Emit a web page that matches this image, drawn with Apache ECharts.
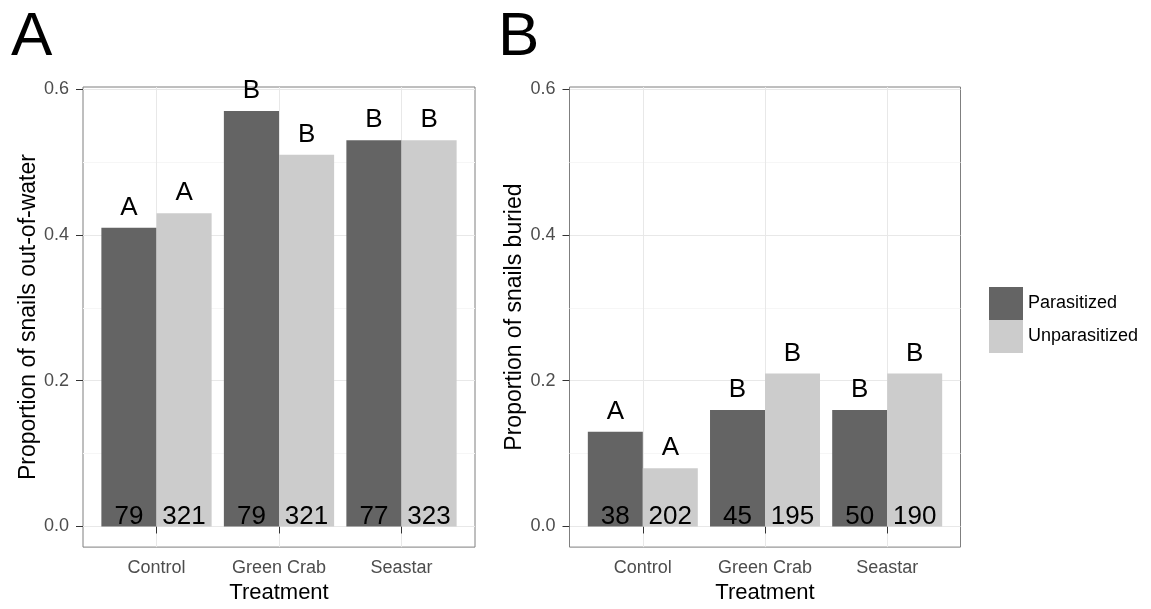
<!DOCTYPE html>
<html>
<head>
<meta charset="utf-8">
<script src="https://cdn.jsdelivr.net/npm/echarts@6/dist/echarts.min.js"></script>
<style>
  html, body { margin: 0; padding: 0; background: #fff; }
  #chart { width: 1151px; height: 609px; }
</style>
</head>
<body>
<div id="chart"></div>
<script>
// Treatments on the x axis and the two snail groups
const treatments = ['Control', 'Green Crab', 'Seastar'];
const groups = ['Parasitized', 'Unparasitized'];

// Panel A: proportion of snails out of water
const outParasitized = [0.41, 0.57, 0.53];
const outUnparasitized = [0.43, 0.51, 0.53];
const outLettersPar = ['A', 'B', 'B'];
const outLettersUnpar = ['A', 'B', 'B'];
const outNPar = [79, 79, 77];
const outNUnpar = [321, 321, 323];

// Panel B: proportion of snails buried
const burParasitized = [0.13, 0.16, 0.16];
const burUnparasitized = [0.08, 0.21, 0.21];
const burLettersPar = ['A', 'B', 'B'];
const burLettersUnpar = ['A', 'B', 'B'];
const burNPar = [38, 45, 50];
const burNUnpar = [202, 195, 190];

// Axis ticks
const yTicks = [0, 0.2, 0.4, 0.6];
const yMinorTicks = [0.1, 0.3, 0.5];
const xPositions = treatments.map((t, i) => i + 1);

const FONT = '"Liberation Sans", Arial, Helvetica, sans-serif';
const DARK = '#646464';
const LIGHT = '#cccccc';
const Y_MIN = -0.0283;
const Y_MAX = 0.6031;

function xAxisFor(gridIndex) {
  return {
    gridIndex: gridIndex,
    type: 'value',
    min: 0.4,
    max: 3.6,
    axisLine: { show: false },
    axisTick: { customValues: xPositions, length: 7, lineStyle: { color: '#333' } },
    axisLabel: {
      customValues: xPositions,
      formatter: v => treatments[Math.round(v) - 1],
      fontFamily: FONT, fontSize: 18, color: '#4d4d4d', margin: 12
    },
    splitLine: { show: true, lineStyle: { color: '#e8e8e8', width: 1 } },
    name: 'Treatment',
    nameLocation: 'middle',
    nameGap: 33,
    nameTextStyle: { fontFamily: FONT, fontSize: 22, color: '#000' }
  };
}

function yAxesFor(gridIndex, title) {
  return [
    {
      gridIndex: gridIndex,
      type: 'value',
      min: Y_MIN,
      max: Y_MAX,
      axisLine: { show: false },
      axisTick: { customValues: yTicks, length: 7, lineStyle: { color: '#333' } },
      axisLabel: {
        customValues: yTicks,
        formatter: v => v.toFixed(1),
        fontFamily: FONT, fontSize: 18, color: '#4d4d4d', margin: 14
      },
      splitLine: { show: true, lineStyle: { color: '#e8e8e8', width: 1 } },
      name: title,
      nameLocation: 'middle',
      nameRotate: 90,
      nameGap: 43,
      nameTextStyle: { fontFamily: FONT, fontSize: 23, color: '#000' }
    },
    {
      gridIndex: gridIndex,
      type: 'value',
      min: Y_MIN,
      max: Y_MAX,
      axisLine: { show: false },
      axisTick: { show: false, customValues: yMinorTicks },
      axisLabel: { show: false, customValues: yMinorTicks },
      splitLine: { show: true, lineStyle: { color: '#f6f6f6', width: 1 } }
    }
  ];
}

function barSeries(name, color, values, letters, counts, axisIndex) {
  return {
    type: 'bar',
    name: name,
    xAxisIndex: axisIndex,
    yAxisIndex: axisIndex * 2,
    data: values.map((v, i) => [xPositions[i], v]),
    barGap: '0%',
    barCategoryGap: '10%',
    itemStyle: { color: color },
    label: {
      show: true,
      position: 'top',
      distance: 7,
      formatter: p => letters[p.dataIndex],
      fontFamily: FONT, fontSize: 26, color: '#000'
    },
    markPoint: {
      symbol: 'rect',
      symbolSize: 0,
      silent: true,
      itemStyle: { color: 'transparent' },
      label: {
        show: true,
        position: 'top',
        distance: 0,
        offset: [0, 3],
        formatter: '{c}',
        fontFamily: FONT, fontSize: 26, color: '#000'
      },
      data: counts.map((n, i) => ({ coord: [xPositions[i], 0], value: n }))
    }
  };
}

const chart = echarts.init(document.getElementById('chart'), null, { renderer: 'canvas' });

chart.setOption({
  animation: false,
  backgroundColor: '#fff',
  textStyle: { fontFamily: FONT },
  grid: [
    { left: 83, top: 87, width: 392, height: 462, show: true, borderColor: '#7f7f7f', borderWidth: 1, backgroundColor: '#fff' },
    { left: 569.5, top: 87, width: 391, height: 462, show: true, borderColor: '#7f7f7f', borderWidth: 1, backgroundColor: '#fff' }
  ],
  xAxis: [xAxisFor(0), xAxisFor(1)],
  yAxis: yAxesFor(0, 'Proportion of snails out-of-water').concat(yAxesFor(1, 'Proportion of snails buried')),
  legend: {
    data: groups,
    orient: 'vertical',
    left: 989,
    top: 287,
    padding: 0,
    itemWidth: 34,
    itemHeight: 33,
    itemGap: 0,
    icon: 'rect',
    textStyle: { fontFamily: FONT, fontSize: 18, color: '#000' }
  },
  graphic: [
    { type: 'text', x: 11, y: 38, style: { text: 'A', fontFamily: FONT, fontSize: 62, fill: '#000', verticalAlign: 'middle' } },
    { type: 'text', x: 498, y: 38, style: { text: 'B', fontFamily: FONT, fontSize: 62, fill: '#000', verticalAlign: 'middle' } }
  ],
  series: [
    barSeries(groups[0], DARK, outParasitized, outLettersPar, outNPar, 0),
    barSeries(groups[1], LIGHT, outUnparasitized, outLettersUnpar, outNUnpar, 0),
    barSeries(groups[0], DARK, burParasitized, burLettersPar, burNPar, 1),
    barSeries(groups[1], LIGHT, burUnparasitized, burLettersUnpar, burNUnpar, 1)
  ]
});
</script>
</body>
</html>
